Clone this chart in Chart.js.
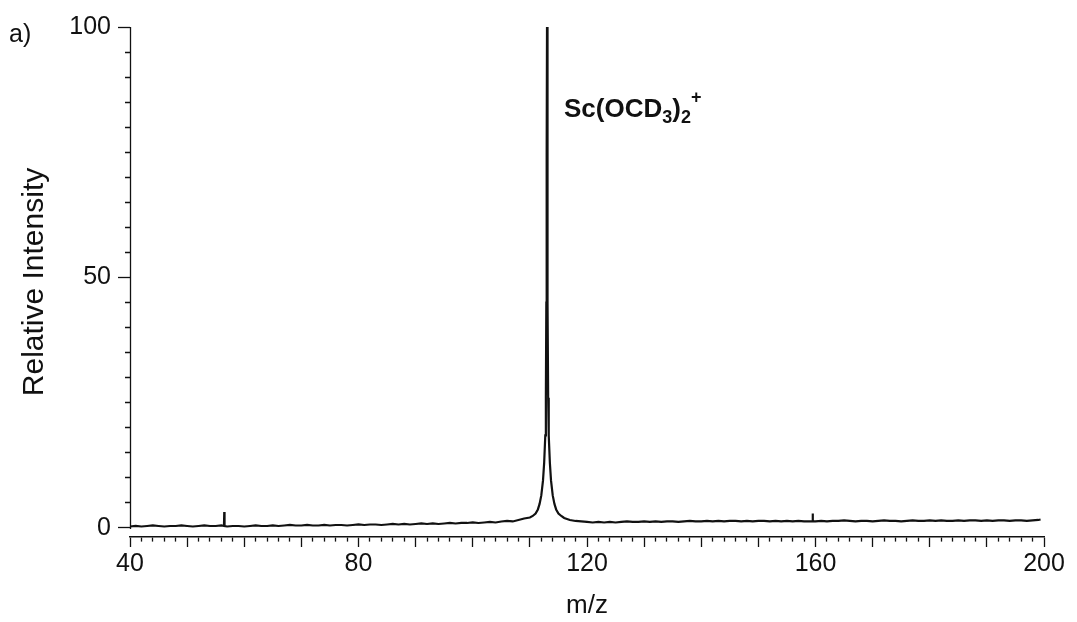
<!DOCTYPE html>
<html>
<head>
<meta charset="utf-8">
<script src="https://cdn.jsdelivr.net/npm/chart.js@4.4.1/dist/chart.umd.min.js"></script>
<style>
  html, body { margin: 0; padding: 0; background: #fff; }
  canvas { display: block; }
</style>
</head>
<body>
<canvas id="spectrum" width="1077" height="622"></canvas>
<script>
// Mass spectrum of Sc(OCD3)2+ : m/z positions and relative intensities (%)
const mzValues = [
  40, 41, 42, 43, 44, 45, 46, 47, 48, 49, 50, 51, 52, 53, 54, 55, 56,
  56.45, 56.5, 56.55,
  57, 58, 59, 60, 61, 62, 63, 64, 65, 66, 67, 68, 69, 70, 71, 72, 73, 74, 75, 76, 77, 78, 79, 80,
  81, 82, 83, 84, 85, 86, 87, 88, 89, 90, 91, 92, 93, 94, 95, 96, 97, 98, 99, 100,
  101, 102, 103, 104, 105, 106, 107, 108, 109, 110,
  110.5, 111, 111.4, 111.7, 112, 112.3, 112.5, 112.7, 112.8, 112.88, 112.94,
  113,
  113.06, 113.12, 113.2, 113.3, 113.5, 113.7, 114, 114.3, 114.6, 115, 115.5,
  116, 116.5, 117, 117.5, 118, 119, 120,
  121, 122, 123, 124, 125, 126, 127, 128, 129, 130, 131, 132, 133, 134, 135, 136, 137, 138, 139, 140,
  141, 142, 143, 144, 145, 146, 147, 148, 149, 150, 151, 152, 153, 154, 155, 156, 157, 158, 159,
  159.45, 159.5, 159.55,
  160, 161, 162, 163, 164, 165, 166, 167, 168, 169, 170, 171, 172, 173, 174, 175, 176, 177, 178, 179, 180,
  181, 182, 183, 184, 185, 186, 187, 188, 189, 190, 191, 192, 193, 194, 195, 196, 197, 198, 199, 199.4
];
const intensities = [
  0.3, 0.4, 0.3, 0.4, 0.5, 0.4, 0.3, 0.4, 0.4, 0.5, 0.4, 0.3, 0.4, 0.5, 0.4, 0.4, 0.5,
  0.4, 3.2, 0.4,
  0.3, 0.4, 0.4, 0.3, 0.4, 0.5, 0.4, 0.4, 0.5, 0.4, 0.5, 0.6, 0.5, 0.5, 0.6, 0.5, 0.5, 0.6, 0.5, 0.6, 0.6, 0.5, 0.6, 0.7,
  0.6, 0.7, 0.7, 0.6, 0.7, 0.8, 0.7, 0.8, 0.7, 0.8, 0.9, 0.8, 0.9, 0.8, 0.9, 1.0, 0.9, 1.0, 1.0, 1.1,
  1.0, 1.1, 1.2, 1.1, 1.3, 1.4, 1.3, 1.6, 1.9, 2.1,
  2.4, 2.9, 3.7, 4.8, 6.5, 9.5, 13, 18.5, 26, 45, 75,
  100,
  75, 45, 26, 18.5, 13, 9.5, 6.5, 4.8, 3.7, 2.9, 2.4,
  2.0, 1.8, 1.6, 1.5, 1.4, 1.3, 1.2,
  1.1, 1.2, 1.1, 1.2, 1.1, 1.2, 1.3, 1.2, 1.2, 1.3, 1.2, 1.3, 1.2, 1.3, 1.3, 1.2, 1.3, 1.4, 1.3, 1.3,
  1.4, 1.3, 1.4, 1.3, 1.4, 1.4, 1.3, 1.4, 1.3, 1.4, 1.4, 1.3, 1.4, 1.3, 1.4, 1.3, 1.4, 1.3, 1.3,
  1.3, 2.9, 1.3,
  1.3, 1.4, 1.3, 1.4, 1.4, 1.5, 1.4, 1.3, 1.4, 1.4, 1.3, 1.4, 1.5, 1.4, 1.4, 1.3, 1.4, 1.5, 1.4, 1.4, 1.5,
  1.4, 1.5, 1.4, 1.4, 1.5, 1.4, 1.5, 1.5, 1.4, 1.5, 1.4, 1.5, 1.5, 1.4, 1.5, 1.5, 1.4, 1.5, 1.6, 1.7
];

// Axis ranges and labelled ticks
const xRange = [40, 200];
const xLabelValues = [40, 80, 120, 160, 200];
const xMajorStep = 10;
const xMinorStep = 2;
const yRange = [0, 100];
const yLabelValues = [0, 50, 100];
const yMinorStep = 5;
const yFloor = -1.8;   // x axis sits a little below the zero line

// Peak annotation
const peakMz = 113;
const peakLabelLevel = 82;
const panelLabel = 'a)';

const FONT = "'Liberation Sans', Arial, Helvetica, sans-serif";
const INK = '#111';

function stepValues(lo, hi, step) {
  const out = [];
  for (let v = lo; v <= hi + 1e-9; v += step) out.push(Math.round(v * 1000) / 1000);
  return out;
}
const isMultiple = (v, step) => Math.abs(v / step - Math.round(v / step)) < 1e-6;

// Vertical axis line running only from 0 to 100
const yAxisLine = {
  id: 'yAxisLine',
  afterDraw(chart) {
    const { ctx, scales: { x, y } } = chart;
    const px = Math.round(x.getPixelForValue(xRange[0])) + 0.5;
    ctx.save();
    ctx.strokeStyle = INK;
    ctx.lineWidth = 1.3;
    ctx.beginPath();
    ctx.moveTo(px, y.getPixelForValue(yRange[1]));
    ctx.lineTo(px, y.getPixelForValue(yRange[0]) + 1);
    ctx.stroke();
    ctx.restore();
  }
};

// Panel letter and the ion label beside the peak
const textLabels = {
  id: 'textLabels',
  afterDraw(chart) {
    const { ctx, scales: { x, y } } = chart;
    ctx.save();
    ctx.fillStyle = INK;
    ctx.textBaseline = 'alphabetic';
    ctx.textAlign = 'left';
    ctx.font = `25px ${FONT}`;
    ctx.fillText(panelLabel, 9, 42);

    let px = x.getPixelForValue(peakMz) + 17;
    const py = y.getPixelForValue(peakLabelLevel);
    const parts = [
      ['Sc(OCD', 'base'], ['3', 'sub'], [')', 'base'], ['2', 'sub'], ['+', 'sup']
    ];
    for (const [txt, kind] of parts) {
      if (kind === 'base') {
        ctx.font = `bold 26px ${FONT}`;
        ctx.fillText(txt, px, py);
      } else if (kind === 'sub') {
        ctx.font = `bold 18px ${FONT}`;
        ctx.fillText(txt, px, py + 6);
      } else {
        ctx.font = `bold 18px ${FONT}`;
        ctx.fillText(txt, px, py - 14);
      }
      px += ctx.measureText(txt).width;
    }
    ctx.restore();
  }
};

new Chart(document.getElementById('spectrum'), {
  type: 'line',
  data: {
    datasets: [{
      data: mzValues.map((m, i) => ({ x: m, y: intensities[i] })),
      borderColor: INK,
      borderWidth: 2.2,
      pointRadius: 0,
      tension: 0,
      fill: false,
      clip: 6
    }]
  },
  options: {
    responsive: false,
    animation: false,
    events: [],
    layout: { padding: { top: 27, right: 33, left: 0, bottom: 0 } },
    plugins: { legend: { display: false }, tooltip: { enabled: false } },
    scales: {
      x: {
        type: 'linear',
        min: xRange[0],
        max: xRange[1],
        afterFit: s => { s.height = 85; },
        afterBuildTicks: s => {
          s.ticks = stepValues(xRange[0], xRange[1], xMinorStep).map(v => ({ value: v }));
        },
        border: { display: true, color: INK, width: 1.6 },
        grid: {
          display: true,
          drawOnChartArea: false,
          drawTicks: true,
          tickLength: 10,
          tickColor: INK,
          tickWidth: 1.3,
          tickBorderDash: c => (c.tick && isMultiple(c.tick.value, xMajorStep)) ? [] : [4, 100]
        },
        ticks: {
          autoSkip: false,
          maxRotation: 0,
          padding: 2,
          color: INK,
          font: { family: FONT, size: 25 },
          callback: v => xLabelValues.includes(v) ? String(v) : ''
        },
        title: {
          display: true,
          text: 'm/z',
          color: INK,
          font: { family: FONT, size: 26, lineHeight: 1.2 },
          padding: { top: 0, bottom: 1 }
        }
      },
      y: {
        type: 'linear',
        min: yFloor,
        max: yRange[1],
        afterFit: s => { s.width = 130; },
        afterBuildTicks: s => {
          s.ticks = stepValues(yRange[0], yRange[1], yMinorStep).map(v => ({ value: v }));
        },
        border: { display: false },
        grid: {
          display: true,
          drawOnChartArea: false,
          drawTicks: true,
          tickLength: 12,
          tickColor: INK,
          tickWidth: 1.3,
          tickBorderDash: c => (c.tick && yLabelValues.includes(c.tick.value)) ? [] : [0, 7, 5, 100]
        },
        ticks: {
          autoSkip: false,
          padding: 7,
          color: INK,
          font: { family: FONT, size: 25 },
          callback: v => yLabelValues.includes(v) ? String(v) : ''
        },
        title: {
          display: true,
          text: 'Relative Intensity',
          color: INK,
          font: { family: FONT, size: 30, lineHeight: 1.2 },
          padding: { top: 17, bottom: 0 }
        }
      }
    }
  },
  plugins: [yAxisLine, textLabels]
});
</script>
</body>
</html>
